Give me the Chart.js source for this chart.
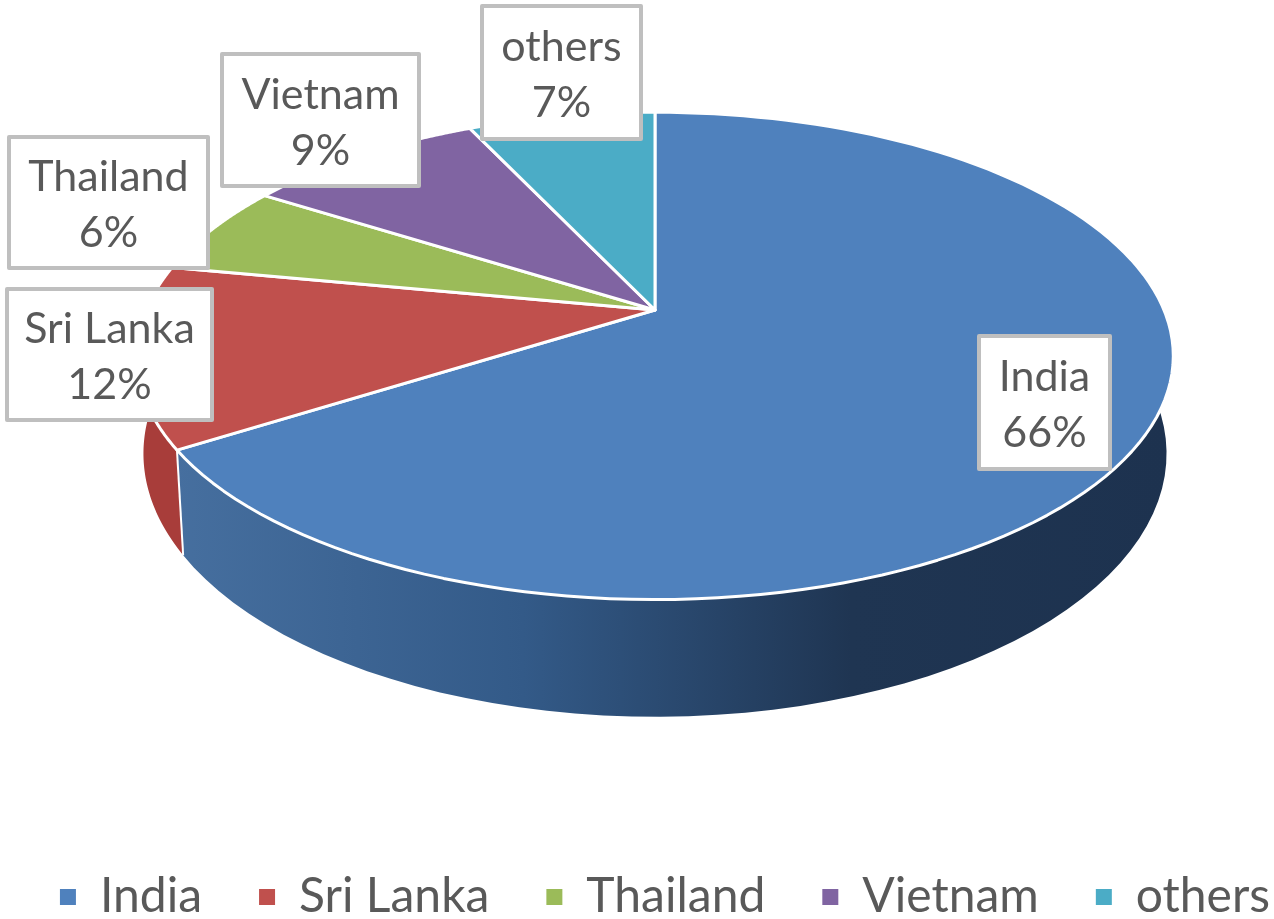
<!DOCTYPE html>
<html>
<head>
<meta charset="utf-8">
<title>Share by country</title>
<script src="https://cdn.jsdelivr.net/npm/chart.js@4/dist/chart.umd.min.js"></script>
<style>
	html, body { margin: 0; padding: 0; background: #fff; overflow: hidden; width: 1274px; height: 919px; }
	canvas { display: block; }
</style>
</head>
<body>
<!-- wider than the page: chart.js wraps the legend otherwise, the last 126px are empty -->
<canvas id="pieChart" width="1400" height="919"></canvas>
<script>
const categories = ['India', 'Sri Lanka', 'Thailand', 'Vietnam', 'others'];
const shares = [66, 12, 6, 9, 7];
const sliceColors = ['#4f81bd', '#c0504d', '#9bbb59', '#8064a2', '#4bacc6'];

// label boxes in page pixels: left, top, width, height
const labelBoxes = [
	[979, 336, 131, 133],
	[7, 289, 205, 131],
	[9, 137, 199, 131],
	[222, 54, 197, 132],
	[482, 6, 159, 133]
];

// the excel pie is tilted with perspective, so the circle centre is not the ellipse centre
const centerX = 655, centerY = 310;
const spreadX = 509, spreadY = 235, tilt = 0.1885;

function topPoint(angle) {
	let x = Math.cos(angle), y = Math.sin(angle);
	let d = 1 - tilt * y;
	return [centerX + spreadX * x / d, centerY + spreadY * y / d];
}

function bottomPoint(angle) {
	let p = topPoint(angle);
	return [centerX + (p[0] - centerX) * 0.987, centerY + (p[1] - centerY) * 1.08 + 94];
}

function wallFill(ctx, index) {
	if (index != 0) {
		return index == 1 ? '#a83d3a' : sliceColors[index];
	}
	let g = ctx.createLinearGradient(175, 0, 1170, 0);
	g.addColorStop(0, '#466f9f');
	g.addColorStop(0.35, '#335a88');
	g.addColorStop(0.68, '#1f3552');
	g.addColorStop(1, '#1d324f');
	return g;
}

const perspectivePie = {
	id: 'perspectivePie',
	afterLayout(chart) {
		chart.legend.top += 12;
		chart.legend.bottom += 12;
	},
	beforeDatasetsDraw(chart) {
		const ctx = chart.ctx;
		const arcs = chart.getDatasetMeta(0).data;
		ctx.save();
		ctx.lineJoin = 'round';

		// side wall, back to front
		for (let i = arcs.length - 1; i >= 0; i--) {
			let a = arcs[i];
			ctx.beginPath();
			for (let s = 0; s <= 90; s++) {
				let p = topPoint(a.startAngle + (a.endAngle - a.startAngle) * s / 90);
				ctx.lineTo(p[0], p[1]);
			}
			for (let s = 90; s >= 0; s--) {
				let p = bottomPoint(a.startAngle + (a.endAngle - a.startAngle) * s / 90);
				ctx.lineTo(p[0], p[1]);
			}
			ctx.closePath();
			ctx.fillStyle = wallFill(ctx, i);
			ctx.fill();
		}

		// white seam where the first slice ends
		let t = topPoint(arcs[0].endAngle), b = bottomPoint(arcs[0].endAngle);
		ctx.beginPath();
		ctx.moveTo(t[0], t[1]);
		ctx.lineTo(b[0], b[1]);
		ctx.strokeStyle = '#fff';
		ctx.lineWidth = 2;
		ctx.stroke();

		// top surface
		arcs.forEach((a, i) => {
			ctx.beginPath();
			ctx.moveTo(centerX, centerY);
			for (let s = 0; s <= 120; s++) {
				let p = topPoint(a.startAngle + (a.endAngle - a.startAngle) * s / 120);
				ctx.lineTo(p[0], p[1]);
			}
			ctx.closePath();
			ctx.fillStyle = sliceColors[i];
			ctx.fill();
			ctx.strokeStyle = '#fff';
			ctx.lineWidth = 3;
			ctx.stroke();
		});

		// data labels
		ctx.textAlign = 'center';
		ctx.textBaseline = 'middle';
		ctx.font = '43px Lato';
		categories.forEach((name, i) => {
			let box = labelBoxes[i];
			ctx.fillStyle = '#fff';
			ctx.fillRect(box[0], box[1], box[2], box[3]);
			ctx.strokeStyle = '#bfbfbf';
			ctx.lineWidth = 4;
			ctx.strokeRect(box[0], box[1], box[2], box[3]);
			ctx.fillStyle = '#595959';
			let mid = box[0] + box[2] / 2, midY = box[1] + box[3] / 2;
			ctx.fillText(name, mid, midY - 25);
			ctx.fillText(shares[i] + '%', mid, midY + 31);
		});
		ctx.restore();
		return false;
	}
};

new Chart(document.getElementById('pieChart'), {
	type: 'pie',
	data: {
		labels: categories,
		datasets: [{
			data: shares,
			backgroundColor: sliceColors,
			borderWidth: 0
		}]
	},
	plugins: [perspectivePie],
	options: {
		responsive: false,
		animation: false,
		layout: { padding: { right: 70 } },
		plugins: {
			tooltip: { enabled: false },
			legend: {
				position: 'bottom',
				labels: {
					boxWidth: 16,
					boxHeight: 16,
					padding: 57,
					color: '#595959',
					font: { family: 'Lato', size: 48 }
				}
			}
		}
	}
});
</script>
</body>
</html>
